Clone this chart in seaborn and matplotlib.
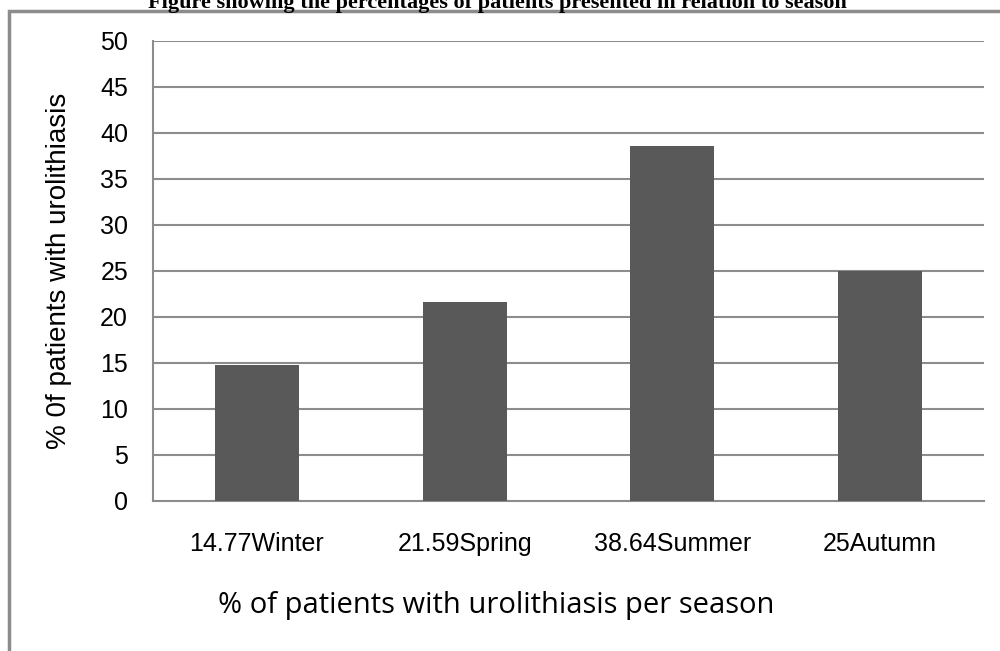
import matplotlib
matplotlib.use("Agg")
import matplotlib.pyplot as plt
import seaborn as sns
import pandas as pd
from matplotlib.patches import Rectangle

# data
seasons = ["Winter", "Spring", "Summer", "Autumn"]
percentages = [14.77, 21.59, 38.64, 25]
tick_labels = ["14.77Winter", "21.59Spring", "38.64Summer", "25Autumn"]

df = pd.DataFrame({"season": seasons, "pct": percentages})

sns.set_style("white")
plt.rcParams["font.family"] = ["Liberation Sans", "DejaVu Sans"]
plt.rcParams["text.color"] = "black"
plt.rcParams["axes.labelcolor"] = "black"

fig = plt.figure(figsize=(10, 6.51), dpi=100)
ax = fig.add_axes([0.153, 1 - 501 / 651, 0.831, 460 / 651])

sns.barplot(data=df, x="season", y="pct", color="#595959", width=0.404,
            saturation=1, linewidth=0, ax=ax, zorder=3)

grid_col = "#8c8c8c"
ax.set_ylim(0, 50)
ax.set_xlim(-0.5, len(seasons) - 0.5)
ax.set_yticks(range(0, 51, 5))
for y in range(5, 51, 5):
    ax.axhline(y, color=grid_col, lw=1.5, zorder=1)

for side in ["top", "right"]:
    ax.spines[side].set_visible(False)
for side in ["left", "bottom"]:
    ax.spines[side].set_color(grid_col)
    ax.spines[side].set_linewidth(1.5)

ax.tick_params(axis="y", length=8, width=1.5, color=grid_col,
               labelcolor="black", labelsize=18, pad=10)
ax.set_xticks([i - 0.5 for i in range(len(seasons) + 1)])
ax.set_xticklabels([""] * (len(seasons) + 1))
ax.tick_params(axis="x", length=8, width=1.5, color=grid_col)
ax.set_xticks(range(len(seasons)), minor=True)
ax.set_xticklabels(tick_labels, minor=True, fontsize=18)
ax.tick_params(axis="x", which="minor", length=0, pad=22, labelcolor="black")

ax.set_ylabel("% 0f patients with urolithiasis", fontsize=20, labelpad=20)
ax.set_xlabel("")
fig.text(496 / 1000, 1 - 605 / 651, "% of patients with urolithiasis per season",
         ha="center", va="center", fontsize=21,
         family=["Open Sans", "DejaVu Sans"])

# outer frame of the chart area
fig.patches.append(Rectangle((9 / 1000, -0.1), 1.2, (651 - 11) / 651 + 0.1,
                             transform=fig.transFigure, fill=False,
                             edgecolor=grid_col, lw=2.5))

fig.text(0.497, 1 - 8 / 651,
         "Figure showing the percentages of patients presented in relation to season",
         ha="center", va="baseline", fontsize=16, fontweight="bold",
         family=["Liberation Serif", "DejaVu Serif"])

fig.savefig("out.png", dpi=100)
